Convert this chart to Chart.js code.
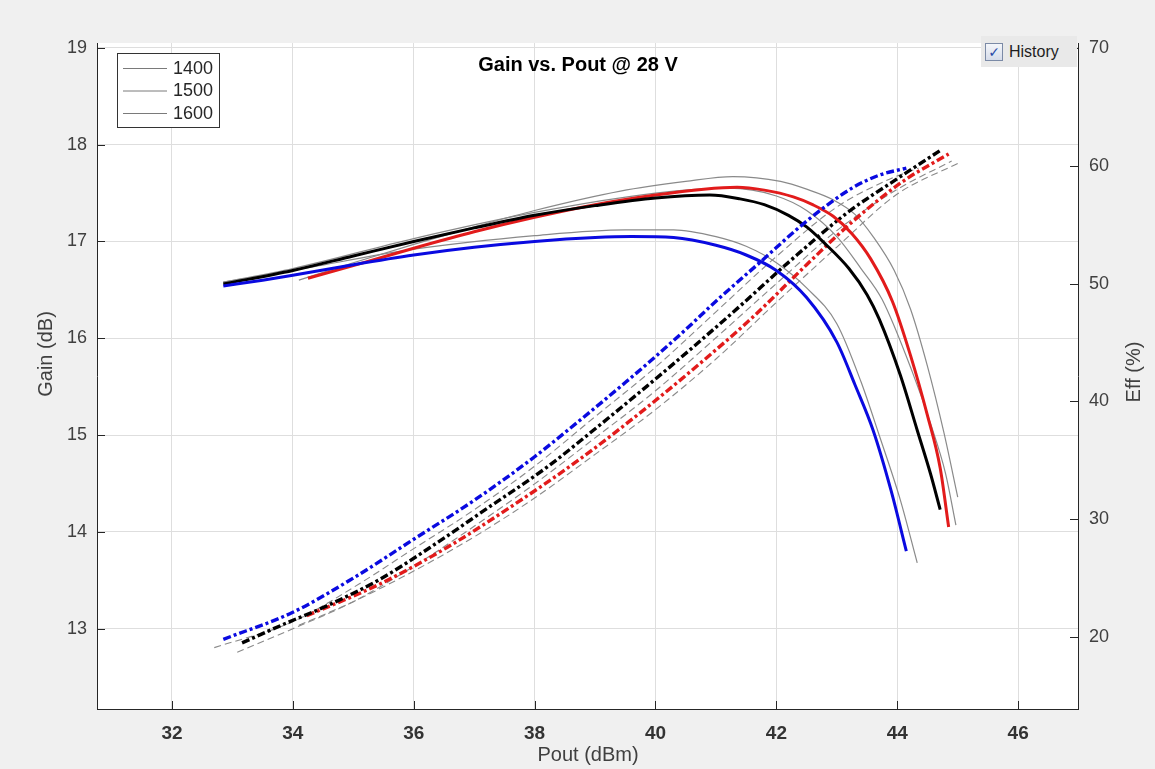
<!DOCTYPE html>
<html>
<head>
<meta charset="utf-8">
<title>Gain vs. Pout @ 28 V</title>
<script src="https://cdn.jsdelivr.net/npm/chart.js@4.4.1/dist/chart.umd.min.js"></script>
<style>
  html, body { margin: 0; padding: 0; background: #f0f0f0; }
  #wrap { position: relative; width: 1155px; height: 769px; }
  #history {
    position: absolute; left: 981px; top: 36px; width: 96px; height: 31px;
    background: #e9e9e9; display: flex; align-items: center;
    font: 16px "Liberation Sans", Arial, sans-serif; color: #1e1e1e;
  }
  #history .box {
    width: 16px; height: 16px; margin: 0 6px 0 4px; border: 1px solid #7b8aa6;
    background: linear-gradient(#f4f6fa, #d6dcea); color: #2a4aa8;
    font: bold 14px "DejaVu Sans", sans-serif; line-height: 16px; text-align: center;
  }
</style>
</head>
<body>
<div id="wrap">
  <canvas id="gainChart" width="1155" height="769"></canvas>
  <div id="history"><span class="box">✓</span><span>History</span></div>
</div>
<script>
// tick labels
var poutTicks = [32, 34, 36, 38, 40, 42, 44, 46];
var gainTicks = [13, 14, 15, 16, 17, 18, 19];
var effTicks = [20, 30, 40, 50, 60, 70];
var legendLabels = ['1400', '1500', '1600'];

// gain, solid lines (Pout dBm / Gain dB)
var blueGainX = [32.85, 33.5, 34, 35, 36, 37, 38, 39, 39.6, 40.3, 41.0, 41.5, 42.0, 42.5, 43.0, 43.3, 43.6, 43.9, 44.15];
var blueGain  = [16.54, 16.6, 16.65, 16.76, 16.86, 16.94, 17.0, 17.04, 17.05, 17.04, 16.96, 16.86, 16.7, 16.42, 15.96, 15.52, 15.05, 14.42, 13.8];
var blackGainX = [32.85, 34, 35, 36, 37, 38, 39, 40, 40.9, 41.4, 41.8, 42.2, 42.5, 42.8, 43.2, 43.5, 43.7, 44.05, 44.33, 44.55, 44.71];
var blackGain  = [16.56, 16.7, 16.85, 17.0, 17.14, 17.27, 17.37, 17.45, 17.48, 17.44, 17.38, 17.27, 17.15, 16.98, 16.72, 16.45, 16.2, 15.62, 15.05, 14.6, 14.23];
var redGainX = [34.25, 35, 36, 37, 38, 39, 40, 40.8, 41.35, 41.8, 42.28, 42.6, 42.94, 43.25, 43.56, 43.92, 44.22, 44.5, 44.71, 44.85];
var redGain  = [16.62, 16.75, 16.93, 17.1, 17.25, 17.38, 17.48, 17.54, 17.56, 17.53, 17.46, 17.38, 17.26, 17.08, 16.82, 16.38, 15.82, 15.2, 14.66, 14.05];

// gain history, thin grey
var histGainAX = [32.85, 34, 36, 38, 39.5, 40.3, 41.0, 41.5, 42.0, 42.5, 43.0, 43.4, 43.7, 44.05, 44.33];
var histGainA  = [16.58, 16.7, 16.92, 17.06, 17.12, 17.12, 17.05, 16.95, 16.78, 16.52, 16.15, 15.55, 15.0, 14.33, 13.68];
var histGainBX = [32.85, 34, 36, 38, 40, 41.2, 42, 42.5, 43, 43.4, 43.75, 44.25, 44.55, 44.8, 44.97];
var histGainB  = [16.58, 16.72, 17.03, 17.3, 17.5, 17.55, 17.47, 17.32, 17.05, 16.72, 16.4, 15.65, 15.12, 14.6, 14.07];
var histGainCX = [34.1, 35, 36, 37, 38, 39.42, 40.5, 41.28, 42.07, 42.5, 42.94, 43.3, 43.6, 43.95, 44.22, 44.5, 44.77, 45.0];
var histGainC  = [16.6, 16.78, 16.97, 17.15, 17.32, 17.52, 17.62, 17.67, 17.62, 17.54, 17.43, 17.28, 17.05, 16.7, 16.3, 15.71, 15.03, 14.36];

// efficiency, dash-dot (Pout dBm / Eff %)
var blueEffX = [32.85, 34, 35, 36, 37, 38, 38.75, 39.5, 40, 40.5, 41, 41.75, 42.5, 43.25, 43.7, 44.15];
var blueEff  = [19.8, 22.1, 25.0, 28.3, 31.6, 35.3, 38.4, 41.6, 43.8, 46.1, 48.5, 51.9, 55.3, 58.1, 59.2, 59.8];
var blackEffX = [33.16, 33.9, 34.5, 35.44, 36.27, 37.21, 38.2, 39.08, 39.86, 40.62, 41.4, 42.2, 43.17, 44.0, 44.71];
var blackEff  = [19.5, 21.2, 22.5, 24.9, 27.6, 30.9, 34.4, 38.0, 41.3, 44.6, 48.1, 51.8, 56.0, 58.9, 61.3];
var redEffX = [34.23, 35.44, 36.55, 37.65, 38.75, 39.86, 40.96, 41.62, 42.5, 43.27, 44.1, 44.85];
var redEff  = [21.8, 24.5, 27.6, 31.2, 35.1, 39.5, 44.2, 47.2, 51.6, 55.3, 58.7, 61.0];

// efficiency history, thin grey dashed
var histEffAX = [32.7, 34, 35, 36, 37, 38, 39, 40, 41, 42, 43, 43.8, 44.35];
var histEffA  = [19.1, 21.3, 24.2, 27.5, 30.8, 34.5, 38.7, 42.9, 47.6, 52.3, 56.5, 58.7, 59.8];
var histEffBX = [33.08, 34, 35, 36, 37, 38, 39, 40, 41, 42, 43, 44, 44.9];
var histEffB  = [18.7, 20.7, 23.0, 26.0, 29.4, 33.0, 36.9, 40.9, 45.4, 50.0, 54.5, 58.0, 60.4];
var histEffCX = [34.1, 35, 36, 37, 38, 39, 40, 41, 42, 43, 44, 45.0];
var histEffC  = [21.0, 23.0, 25.6, 28.5, 31.8, 35.5, 39.3, 43.6, 48.4, 53.1, 57.6, 60.2];

function pts(xs, ys) {
  return xs.map(function (x, i) { return {x: x, y: ys[i]}; });
}

var BLUE = '#0a0ae0', RED = '#e21b1b', BLACK = '#000000', GREY = '#8a8a8a';
var FONT = '"Liberation Sans", Arial, Helvetica, sans-serif';

function gainLine(label, xs, ys, color, width, order) {
  return {label: label, data: pts(xs, ys), yAxisID: 'y', borderColor: color, borderWidth: width,
          order: order, pointRadius: 0, cubicInterpolationMode: 'monotone', fill: false};
}
function effLine(label, xs, ys, color, width, dash, order) {
  return {label: label, data: pts(xs, ys), yAxisID: 'y1', borderColor: color, borderWidth: width,
          borderDash: dash, order: order, pointRadius: 0, cubicInterpolationMode: 'monotone', fill: false};
}

var datasets = [
  gainLine('hist gain A', histGainAX, histGainA, GREY, 1.2, 10),
  gainLine('hist gain B', histGainBX, histGainB, GREY, 1.2, 10),
  gainLine('hist gain C', histGainCX, histGainC, GREY, 1.2, 10),
  effLine('hist eff A', histEffAX, histEffA, GREY, 1.1, [7, 4], 10),
  effLine('hist eff B', histEffBX, histEffB, GREY, 1.1, [7, 4], 10),
  effLine('hist eff C', histEffCX, histEffC, GREY, 1.1, [7, 4], 10),
  effLine('Eff red', redEffX, redEff, RED, 3.4, [8, 3, 3, 3], 3),
  effLine('Eff black', blackEffX, blackEff, BLACK, 3.4, [8, 3, 3, 3], 2),
  effLine('Eff blue', blueEffX, blueEff, BLUE, 3.4, [8, 3, 3, 3], 1),
  gainLine('Gain blue', blueGainX, blueGain, BLUE, 3, 1),
  gainLine('Gain black', blackGainX, blackGain, BLACK, 3, 1),
  gainLine('Gain red', redGainX, redGain, RED, 3, 1)
];

var decor = {
  id: 'decor',
  beforeDraw: function (chart) {
    var ctx = chart.ctx, a = chart.chartArea;
    ctx.save();
    ctx.fillStyle = '#ffffff';
    ctx.fillRect(a.left, a.top, a.right - a.left, a.bottom - a.top);
    ctx.restore();
  },
  afterDraw: function (chart) {
    var ctx = chart.ctx, a = chart.chartArea;
    var sx = chart.scales.x, sy = chart.scales.y, sy1 = chart.scales.y1;
    ctx.save();
    // inward tick marks
    ctx.strokeStyle = '#262626';
    ctx.lineWidth = 1;
    ctx.beginPath();
    gainTicks.forEach(function (v) {
      var p = Math.round(sy.getPixelForValue(v)) + 0.5;
      ctx.moveTo(a.left, p); ctx.lineTo(a.left + 8, p);
    });
    effTicks.forEach(function (v) {
      var p = Math.round(sy1.getPixelForValue(v)) + 0.5;
      ctx.moveTo(a.right, p); ctx.lineTo(a.right - 8, p);
    });
    poutTicks.forEach(function (v) {
      var p = Math.round(sx.getPixelForValue(v)) + 0.5;
      ctx.moveTo(p, a.bottom); ctx.lineTo(p, a.bottom - 8);
    });
    ctx.stroke();

    // title
    ctx.fillStyle = '#000';
    ctx.font = 'bold 20px ' + FONT;
    ctx.textAlign = 'center';
    ctx.textBaseline = 'middle';
    ctx.fillText('Gain vs. Pout @ 28 V', 578, 65);

    // axis titles
    ctx.fillStyle = '#404040';
    ctx.font = '20px ' + FONT;
    ctx.fillText('Pout (dBm)', 588, 755);
    ctx.save();
    ctx.translate(46, 354);
    ctx.rotate(-Math.PI / 2);
    ctx.fillText('Gain (dB)', 0, 0);
    ctx.restore();
    ctx.save();
    ctx.translate(1134, 372);
    ctx.rotate(-Math.PI / 2);
    ctx.fillText('Eff (%)', 0, 0);
    ctx.restore();

    // legend box
    var lx = 117, ly = 53, lw = 102, lh = 74;
    ctx.fillStyle = '#fff';
    ctx.fillRect(lx, ly, lw, lh);
    ctx.strokeStyle = '#333';
    ctx.strokeRect(lx + 0.5, ly + 0.5, lw, lh);
    ctx.font = '18px ' + FONT;
    ctx.textAlign = 'left';
    legendLabels.forEach(function (t, i) {
      var yy = ly + 15 + i * 22.5;
      ctx.strokeStyle = '#7a7a7a';
      ctx.lineWidth = 1;
      ctx.beginPath();
      ctx.moveTo(lx + 6, yy + 0.5); ctx.lineTo(lx + 50, yy + 0.5);
      ctx.stroke();
      ctx.fillStyle = '#262626';
      ctx.fillText(t, lx + 56, yy + 1);
    });
    ctx.restore();
  }
};

new Chart(document.getElementById('gainChart'), {
  type: 'line',
  data: {datasets: datasets},
  options: {
    responsive: false,
    animation: false,
    devicePixelRatio: 1,
    layout: {padding: {top: 43, left: 0, right: 0, bottom: 0}},
    plugins: {legend: {display: false}, tooltip: {enabled: false}, title: {display: false}},
    scales: {
      x: {
        type: 'linear', min: 30.76, max: 46.99,
        afterBuildTicks: function (s) { s.ticks = poutTicks.map(function (v) { return {value: v}; }); },
        afterFit: function (s) { s.height = 60; },
        grid: {color: '#dedede', drawTicks: false},
        border: {color: '#262626', width: 1},
        ticks: {padding: 13, color: '#333', font: {family: FONT, size: 19, weight: 'bold'}, maxRotation: 0}
      },
      y: {
        type: 'linear', position: 'left', min: 12.17, max: 19.05,
        afterBuildTicks: function (s) { s.ticks = gainTicks.map(function (v) { return {value: v}; }); },
        afterFit: function (s) { s.width = 97; },
        grid: {color: '#dedede', drawTicks: false},
        border: {color: '#262626', width: 1},
        ticks: {padding: 10, color: '#404040', font: {family: FONT, size: 18}}
      },
      y1: {
        type: 'linear', position: 'right', min: 13.89, max: 70.42,
        afterBuildTicks: function (s) { s.ticks = effTicks.map(function (v) { return {value: v}; }); },
        afterFit: function (s) { s.width = 77; },
        grid: {drawOnChartArea: false, drawTicks: false},
        border: {color: '#262626', width: 1},
        ticks: {padding: 11, color: '#404040', font: {family: FONT, size: 18}}
      }
    }
  },
  plugins: [decor]
});
</script>
</body>
</html>
